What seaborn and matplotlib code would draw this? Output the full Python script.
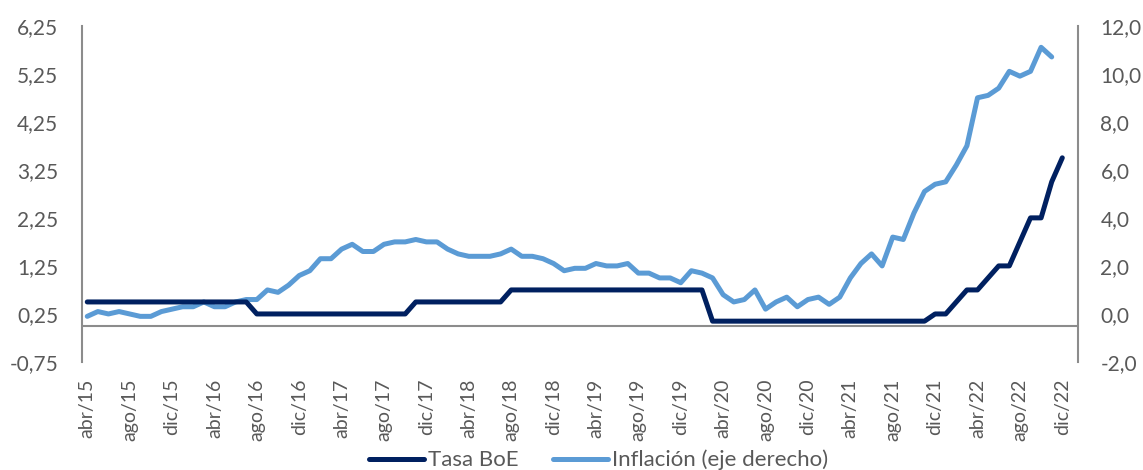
import matplotlib
matplotlib.use("Agg")
import matplotlib.pyplot as plt
import matplotlib.ticker as mticker
import seaborn as sns
import numpy as np
import pandas as pd

# Monthly data, abr/15 .. dic/22
month_abbr = ['ene', 'feb', 'mar', 'abr', 'may', 'jun',
              'jul', 'ago', 'sep', 'oct', 'nov', 'dic']
years = [15, 16, 17, 18, 19, 20, 21, 22]

# Bank of England rate (%)
tasa_boe = [
    0.5, 0.5, 0.5, 0.5, 0.5, 0.5, 0.5, 0.5, 0.5,                      # 2015 abr-dic
    0.5, 0.5, 0.5, 0.5, 0.5, 0.5, 0.5, 0.25, 0.25, 0.25, 0.25, 0.25,   # 2016
    0.25, 0.25, 0.25, 0.25, 0.25, 0.25, 0.25, 0.25, 0.25, 0.25, 0.5, 0.5,  # 2017
    0.5, 0.5, 0.5, 0.5, 0.5, 0.5, 0.5, 0.75, 0.75, 0.75, 0.75, 0.75,   # 2018
    0.75, 0.75, 0.75, 0.75, 0.75, 0.75, 0.75, 0.75, 0.75, 0.75, 0.75, 0.75,  # 2019
    0.75, 0.75, 0.1, 0.1, 0.1, 0.1, 0.1, 0.1, 0.1, 0.1, 0.1, 0.1,      # 2020
    0.1, 0.1, 0.1, 0.1, 0.1, 0.1, 0.1, 0.1, 0.1, 0.1, 0.1, 0.25,       # 2021
    0.25, 0.5, 0.75, 0.75, 1.0, 1.25, 1.25, 1.75, 2.25, 2.25, 3.0, 3.5,  # 2022
]

# CPI inflation (%), abr/15 .. nov/22
inflacion = [
    -0.1, 0.1, 0.0, 0.1, 0.0, -0.1, -0.1, 0.1, 0.2,
    0.3, 0.3, 0.5, 0.3, 0.3, 0.5, 0.6, 0.6, 1.0, 0.9, 1.2, 1.6,
    1.8, 2.3, 2.3, 2.7, 2.9, 2.6, 2.6, 2.9, 3.0, 3.0, 3.1, 3.0,
    3.0, 2.7, 2.5, 2.4, 2.4, 2.4, 2.5, 2.7, 2.4, 2.4, 2.3, 2.1,
    1.8, 1.9, 1.9, 2.1, 2.0, 2.0, 2.1, 1.7, 1.7, 1.5, 1.5, 1.3,
    1.8, 1.7, 1.5, 0.8, 0.5, 0.6, 1.0, 0.2, 0.5, 0.7, 0.3, 0.6,
    0.7, 0.4, 0.7, 1.5, 2.1, 2.5, 2.0, 3.2, 3.1, 4.2, 5.1, 5.4,
    5.5, 6.2, 7.0, 9.0, 9.1, 9.4, 10.1, 9.9, 10.1, 11.1, 10.7,
]

labels = [f'{m}/{y}' for y in years for m in month_abbr][3:3 + len(tasa_boe)]

df_boe = pd.DataFrame({'idx': np.arange(len(tasa_boe)), 'valor': tasa_boe})
df_inf = pd.DataFrame({'idx': np.arange(len(inflacion)), 'valor': inflacion})

sns.set_theme(style='white')
plt.rcParams['font.family'] = ['Lato', 'DejaVu Sans']

TEXT = '#595959'
AXIS = '#8c8c8c'
DARK = '#002060'
LIGHT = '#5b9bd5'

fig = plt.figure(figsize=(11.43, 4.70), dpi=100)
ax = fig.add_axes([0.0717, 0.2298, 0.9713 - 0.0717 - 0.028, 0.9453 - 0.2298])
ax2 = ax.twinx()

sns.lineplot(data=df_inf, x='idx', y='valor', ax=ax2, color=LIGHT, lw=3.6,
             legend=False, solid_joinstyle='round', solid_capstyle='round')
sns.lineplot(data=df_boe, x='idx', y='valor', ax=ax, color=DARK, lw=3.6,
             legend=False, solid_joinstyle='round', solid_capstyle='round')
ax.set_zorder(ax2.get_zorder() + 1)
ax.patch.set_visible(False)

ax.axhline(0, color=AXIS, lw=1.5, zorder=0)

ax.set_xlim(-0.5, len(tasa_boe) + 0.5)
ax.set_ylim(-0.75, 6.25)
ax2.set_ylim(-2, 12)
ax.set_yticks(np.arange(-0.75, 6.26, 1.0))
ax2.set_yticks(np.arange(-2, 12.1, 2))
ax.yaxis.set_major_formatter(mticker.FuncFormatter(lambda v, p: f'{v:.2f}'.replace('.', ',')))
ax2.yaxis.set_major_formatter(mticker.FuncFormatter(lambda v, p: f'{v:.1f}'.replace('.', ',')))

tick_pos = np.arange(0, len(tasa_boe), 4)
ax.set_xticks(tick_pos)
ax.set_xticklabels([labels[i] for i in tick_pos], rotation=90)

for a in (ax, ax2):
    a.set_xlabel('')
    a.set_ylabel('')
    for s in ('top', 'bottom', 'left', 'right'):
        a.spines[s].set_visible(False)
    a.grid(False)
ax.spines['left'].set_visible(True)
ax.spines['left'].set_color(AXIS)
ax.spines['left'].set_linewidth(1.5)
ax2.spines['right'].set_visible(True)
ax2.spines['right'].set_color(AXIS)
ax2.spines['right'].set_linewidth(1.5)

ax.tick_params(axis='y', length=0, pad=17, labelsize=15, labelcolor=TEXT)
ax2.tick_params(axis='y', length=0, pad=16, labelsize=15, labelcolor=TEXT)
ax.tick_params(axis='x', length=0, pad=12, labelsize=14, labelcolor=TEXT)

handles = [ax.get_lines()[0], ax2.get_lines()[0]]
fig.legend(handles, ['Tasa BoE', 'Inflación (eje derecho)'], loc='center',
           bbox_to_anchor=(0.5237, 0.021), ncol=2, frameon=False,
           fontsize=16, labelcolor=TEXT, handlelength=2.5,
           handletextpad=0.18, columnspacing=1.53)

fig.savefig('out.png', dpi=100)
